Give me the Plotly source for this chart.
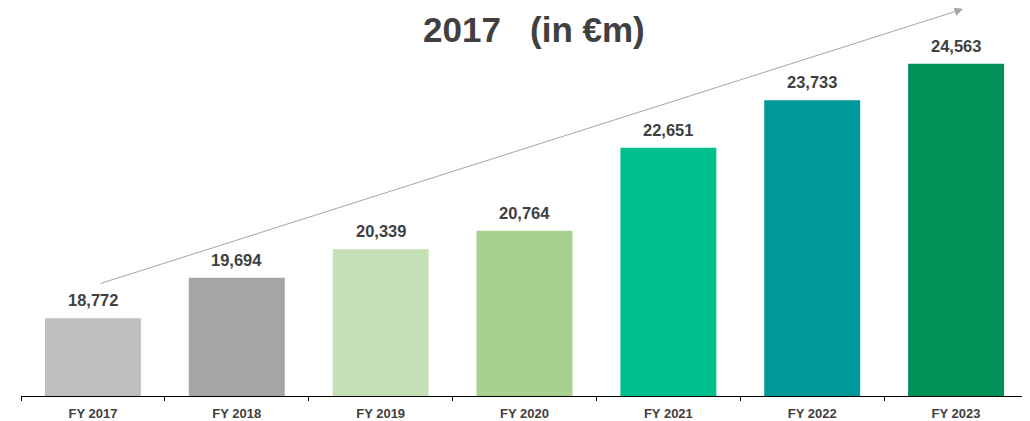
import plotly.graph_objects as go

categories = ["FY 2017", "FY 2018", "FY 2019", "FY 2020", "FY 2021", "FY 2022", "FY 2023"]
values = [18772, 19694, 20339, 20764, 22651, 23733, 24563]
labels = ["18,772", "19,694", "20,339", "20,764", "22,651", "23,733", "24,563"]
colors = ["#BFBFBF", "#A5A5A5", "#C5E0B4", "#A9D18E", "#00BF8F", "#009999", "#009058"]
title_text = "2017\u00a0\u00a0\u00a0(in €m)"

FONT = "Liberation Sans, Arial, sans-serif"
TXT = "#404040"

fig = go.Figure()
fig.add_trace(go.Bar(
    x=categories, y=values, marker=dict(color=colors, line=dict(width=0)),
    hoverinfo="skip", showlegend=False,
))

annotations = []
for c, v, l in zip(categories, values, labels):
    annotations.append(dict(
        x=c, y=v, xref="x", yref="y", text=l, showarrow=False,
        yanchor="bottom", yshift=7,
        font=dict(family=FONT, size=16.5, color=TXT, weight="bold"),
    ))

annotations.append(dict(
    x=0.509, y=1.0, xref="paper", yref="paper", text=title_text,
    showarrow=False, xanchor="center", yanchor="top",
    font=dict(family=FONT, size=35, color=TXT, weight="bold"),
))

# trend arrow
annotations.append(dict(
    x=0.9355, y=1.0026, xref="paper", yref="paper",
    ax=-864, ay=277, axref="pixel", ayref="pixel",
    text="", showarrow=True, arrowhead=2, arrowsize=1.7, arrowwidth=1,
    arrowcolor="#A6A6A6", standoff=0, startstandoff=0,
))

fig.update_layout(
    width=1022, height=413,
    margin=dict(l=13, r=2, t=0, b=21),
    paper_bgcolor="white", plot_bgcolor="white",
    bargap=0.333,
    annotations=annotations,
    xaxis=dict(
        type="category", showline=True, linecolor="#000000", linewidth=1,
        ticks="outside", tickson="boundaries", ticklen=4, tickcolor="#000000",
        ticklabelstandoff=5,
        tickfont=dict(family=FONT, size=13, color=TXT, weight="bold"),
        showgrid=False, zeroline=False, fixedrange=True,
    ),
    yaxis=dict(
        range=[17000, 25833], visible=False, showgrid=False, zeroline=False,
        fixedrange=True,
    ),
)

fig.write_html("out.html")
